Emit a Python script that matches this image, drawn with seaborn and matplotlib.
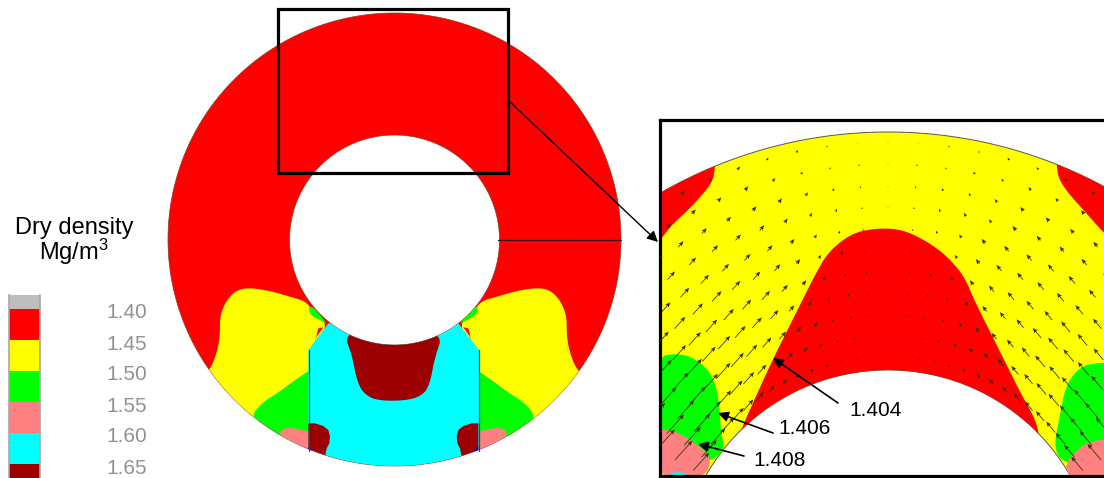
import numpy as np
import matplotlib
matplotlib.use('Agg')
import matplotlib.pyplot as plt
from matplotlib.path import Path
from matplotlib.patches import PathPatch, Rectangle
from matplotlib.transforms import Bbox, TransformedBbox
import seaborn as sns

# legend
band_names = ['below', '1.40', '1.45', '1.50', '1.55', '1.60', '1.65']
band_colors = ['#BEBEBE', '#FF0000', '#FFFF00', '#00FF00', '#FF8080', '#00FFFF', '#9C0000']
legend_labels = ['1.40', '1.45', '1.50', '1.55', '1.60', '1.65']
annot_labels = ['1.404', '1.406', '1.408']

# contour outlines (left half, mirrored for the right)
yellow_main = [(30, 300), (50, 250), (60, 200), (60, 130), (90, 75), (130, 52), (200, 60), (270, 80), (320, 95),
               (340, 130), (385, 165), (345, 215), (340, 300), (300, 320), (240, 365), (190, 400),
               (170, 470), (60, 420), (0, 320)]
green_main = [(155, 435), (190, 395), (240, 365), (300, 320), (345, 290), (345, 510), (235, 520), (170, 470)]
pink_main = [(235, 490), (255, 473), (285, 475), (345, 490), (345, 570), (260, 530)]
green_top = [(325, 110), (340, 110), (385, 165), (360, 150), (330, 135)]
red_bit = [(345, 215), (355, 175), (370, 172), (350, 200)]
cyan_main = [(325, 240), (385, 160), (775, 160), (837, 240), (837, 620), (325, 620)]
darkred_top = [(430, 190), (455, 250), (470, 330), (490, 370), (530, 392), (620, 392), (670, 375), (690, 340),
               (705, 260), (730, 190), (580, 150)]
darkred_low = [(325, 460), (345, 460), (370, 468), (385, 480), (390, 500), (388, 520), (380, 535), (375, 560), (325, 580)]
blue_low = [(325, 530), (340, 545), (325, 545)]

# contour outlines
red_left = [(0, 170), (185, 90), (180, 152), (175, 195), (150, 230), (100, 285), (50, 330), (20, 370), (-20, 410)]
red_right = [(1200, 90), (1205, 148), (1210, 190), (1240, 235), (1290, 290), (1347, 355), (1400, 400), (1400, 90)]
red_mid = [(260, 940), (300, 850), (355, 730), (400, 640), (440, 560), (480, 480), (520, 410), (590, 355), (660, 340),
           (735, 342), (800, 370), (860, 410), (900, 450), (930, 490), (960, 560), (1000, 640), (1050, 740), (1100, 840),
           (1150, 930), (1152, 1000), (240, 1000)]
green_left = [(0, 725), (70, 715), (120, 730), (165, 770), (185, 820), (195, 890), (197, 950), (210, 1000), (175, 1035),
              (130, 1040), (0, 1040)]
pink_left = [(0, 945), (50, 945), (100, 970), (140, 1000), (170, 1030), (150, 1090), (0, 1090)]
cyan_left = [(35, 1090), (50, 1072), (90, 1072), (100, 1090)]
green_right = [(1400, 742), (1300, 745), (1260, 770), (1230, 820), (1215, 900), (1195, 1000), (1230, 1050), (1400, 1050)]
pink_right = [(1400, 965), (1300, 980), (1260, 1010), (1230, 1050), (1240, 1090), (1400, 1090)]

# flow vectors: arrow length (px) per mesh radius and angle
node_radius = [440, 418, 396, 375, 353, 332, 310, 289, 267, 246, 225]
node_angle = [-60, -56, -52, -48, -44, -40, -36, -32, -28, -24, -20, -16, -12, -8, -4, 0,
              4, 8, 12, 16, 20, 24, 28, 32, 36, 40, 44, 48, 52, 56, 60]
arrow_tilt = [42, 42, 42, 42, 42, 42, 42, 42, 42, 42, 40, 38, 33, 24, 12, 0,
              -12, -24, -33, -37, -40, -40, -40, -40, -40, -40, -40, -40, -40, -40, -40]
arrow_len = [
    [10, 9, 8, 8, 7, 6, 6, 5, 5, 4, 4, 3, 3, 2, 1, 1, 1, 2, 2, 3, 3, 4, 4, 5, 5, 6, 6, 7, 8, 8, 9],
    [12, 11, 10, 10, 9, 8, 7, 7, 6, 5, 5, 4, 3, 2, 2, 1, 2, 2, 3, 3, 4, 4, 5, 5, 6, 7, 7, 8, 9, 10, 11],
    [14, 13, 13, 12, 11, 10, 9, 8, 7, 6, 6, 5, 4, 3, 2, 1, 2, 3, 3, 4, 5, 5, 6, 7, 7, 8, 9, 10, 10, 11, 13],
    [16, 15, 15, 14, 13, 12, 11, 10, 9, 8, 7, 5, 4, 3, 2, 1, 2, 3, 4, 4, 6, 6, 7, 8, 8, 9, 10, 11, 12, 13, 15],
    [19, 18, 17, 16, 15, 14, 13, 12, 10, 9, 8, 6, 4, 3, 2, 1, 2, 3, 4, 6, 7, 8, 9, 10, 10, 11, 12, 13, 14, 15, 17],
    [21, 20, 19, 18, 17, 16, 15, 14, 12, 11, 9, 6, 4, 3, 2, 1, 2, 3, 4, 6, 8, 9, 10, 11, 12, 13, 14, 15, 15, 16, 18],
    [24, 23, 22, 21, 20, 18, 17, 15, 13, 12, 9, 6, 4, 3, 2, 1, 2, 3, 4, 6, 8, 10, 11, 12, 14, 15, 15, 16, 17, 18, 20],
    [26, 25, 24, 23, 22, 20, 18, 16, 14, 12, 8, 5, 3, 3, 2, 1, 2, 3, 3, 5, 7, 9, 11, 13, 15, 16, 17, 18, 19, 20, 22],
    [27, 26, 25, 24, 23, 21, 19, 16, 13, 10, 7, 5, 3, 3, 2, 1, 2, 2, 3, 4, 6, 8, 10, 12, 15, 16, 18, 19, 20, 21, 22],
    [26, 25, 24, 23, 21, 19, 16, 13, 10, 8, 6, 4, 3, 2, 1, 1, 1, 2, 3, 4, 5, 7, 9, 11, 13, 15, 16, 17, 18, 19, 21],
    [24, 23, 22, 20, 18, 15, 12, 9, 7, 5, 4, 3, 2, 2, 1, 1, 1, 2, 2, 3, 4, 5, 7, 8, 10, 12, 13, 14, 15, 16, 18],
]

sns.set_theme(style='white')
plt.rcParams['font.family'] = ['Liberation Sans', 'DejaVu Sans']
plt.rcParams['mathtext.default'] = 'regular'

W, H = 1104, 478
fig = plt.figure(figsize=(W / 100, H / 100), dpi=100)


def pixel_axes(x0, y0, x1, y1):
    a = fig.add_axes([x0 / W, 1 - y1 / H, (x1 - x0) / W, (y1 - y0) / H])
    a.set_xlim(x0, x1)
    a.set_ylim(y1, y0)
    return a


def ring(cx, cy_o, R, cy_i, r):
    t = np.linspace(0, 2 * np.pi, 361)
    outer = np.c_[cx + R * np.cos(t), cy_o + R * np.sin(t)]
    inner = np.c_[cx + r * np.cos(t), cy_i + r * np.sin(t)][::-1]
    return Path(np.r_[outer, inner])


def rounded(pts, n=3):
    # corner cutting, the outlines are only read at a few points
    for _ in range(n):
        nxt = np.roll(pts, -1, axis=0)
        pts = np.c_[0.75 * pts + 0.25 * nxt, 0.25 * pts + 0.75 * nxt].reshape(-1, 2)
    return pts


def region(a, pts, color, clip, ox, oy, mirror=None, smooth=True):
    pts = np.array(pts, dtype=float)
    if smooth:
        pts = rounded(pts)
    if mirror is not None:
        pts[:, 0] = mirror - pts[:, 0]
    poly = a.fill(pts[:, 0] / 3 + ox, pts[:, 1] / 3 + oy, color=color, lw=0)[0]
    poly.set_clip_path(clip, a.transData)


# whole section
ax = pixel_axes(0, 0, W, H)
ax.axis('off')
main_ring = ring(394.5, 239.5, 226.5, 240, 105)
ax.add_patch(PathPatch(main_ring, fc='#FF0000', ec='#8a3a20', lw=0.5))
for mirror in [None, 1160]:
    for pts, col in [(yellow_main, '#FFFF00'), (green_main, '#00FF00'), (pink_main, '#FF8080'),
                     (green_top, '#00FF00')]:
        region(ax, pts, col, main_ring, 200, 270, mirror)
    region(ax, red_bit, '#FF0000', main_ring, 200, 270, mirror, smooth=False)
region(ax, cyan_main, '#00FFFF', main_ring, 200, 270, smooth=False)
region(ax, darkred_top, '#9C0000', main_ring, 200, 270)
for mirror in [None, 1160]:
    region(ax, darkred_low, '#9C0000', main_ring, 200, 270, mirror, smooth=False)
    region(ax, blue_low, '#0000FF', main_ring, 200, 270, mirror, smooth=False)
ax.plot([308.5, 308.5], [350, 451], color='#0b5a4a', lw=0.9)
ax.plot([479, 479], [350, 451], color='#0b5a4a', lw=0.9)
ax.plot([498, 621], [240, 240], color='#3a0a0a', lw=0.9)
ax.add_patch(Rectangle((277.5, 8.5), 230.5, 164.5, fc='none', ec='black', lw=2.3))
ax.annotate('', xy=(658, 242), xytext=(508, 100),
            arrowprops=dict(arrowstyle='-|>', color='black', lw=1, mutation_scale=16, shrinkA=0, shrinkB=0))

# titles and legend text
ax.text(74, 228, 'Dry density', ha='center', va='center', fontsize=17, color='black')
ax.text(74, 252, r'Mg/m$^{3}$', ha='center', va='center', fontsize=17, color='black')
keep = TransformedBbox(Bbox([[0, 0], [146, H]]), ax.transData)
for i, lab in enumerate(legend_labels):
    t = ax.text(106, 313 + i * 31, lab, ha='left', va='center', fontsize=15, color='#929292')
    t.set_clip_box(keep)
    t.set_clip_on(True)

# colour scale
cax = pixel_axes(9, 295, 40, H)
sns.barplot(x=[1] * len(band_names), y=band_names, hue=band_names, palette=band_colors, width=1,
            legend=False, orient='h', saturation=1, linewidth=0, ax=cax)
cax.set_xlim(0, 1)
cax.set_ylim(5.95, 0.05)
cax.set_xticks([])
cax.set_yticks([])
cax.set_xlabel('')
cax.set_ylabel('')
for name, sp in cax.spines.items():
    sp.set_visible(name in ('left', 'right'))
    sp.set_color('#a8a8a8')
    sp.set_linewidth(1.2)

# enlarged panel
pax = pixel_axes(660, 120, W, 476)
pax.set_xticks([])
pax.set_yticks([])
pax.set_facecolor('white')
for name, sp in pax.spines.items():
    sp.set_visible(name != 'right')
    sp.set_color('black')
    sp.set_linewidth(2.3)
panel_ring = ring(888, 587, 455, 580, 210)
pax.add_patch(PathPatch(panel_ring, fc='#FFFF00', ec='#555555', lw=0.7))
for pts, col in [(red_left, '#FF0000'), (red_right, '#FF0000'), (red_mid, '#FF0000'), (green_left, '#00FF00'),
                 (pink_left, '#FF8080'), (cyan_left, '#00FFFF'), (green_right, '#00FF00'), (pink_right, '#FF8080')]:
    region(pax, pts, col, panel_ring, 655, 115)

rr, aa = np.meshgrid(node_radius, np.radians(node_angle), indexing='ij')
tilt = np.radians(arrow_tilt)
lens = np.array(arrow_len, dtype=float)
q = pax.quiver(888 + rr * np.sin(aa), 583 - rr * np.cos(aa), lens * np.sin(tilt), -lens * np.cos(tilt),
               angles='xy', scale_units='xy', scale=1, units='dots', width=0.8, headwidth=5.5, headlength=6.5,
               headaxislength=5.5, minlength=0.5, color='#333300', zorder=3)
q.set_clip_path(panel_ring, pax.transData)

arrow_tails = [(838, 403), (773, 433), (744, 456)]
arrow_heads = [(773, 358), (718, 413), (698, 444)]
text_spots = [(849, 411), (778, 429), (753, 461)]
for lab, tail, head, spot in zip(annot_labels, arrow_tails, arrow_heads, text_spots):
    pax.annotate('', xy=head, xytext=tail, zorder=5,
                 arrowprops=dict(arrowstyle='-|>', color='black', lw=1.2, mutation_scale=15, shrinkA=0, shrinkB=0))
    pax.text(spot[0], spot[1], lab, ha='left', va='center', fontsize=15, color='black', zorder=5)

fig.savefig('out.png', dpi=100)
